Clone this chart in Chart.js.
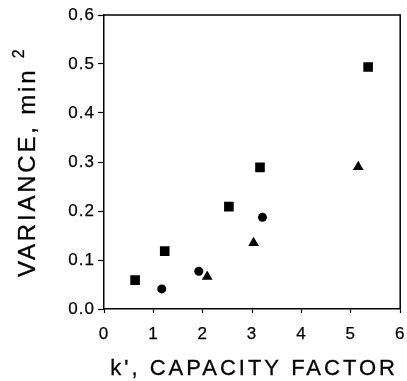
<!DOCTYPE html>
<html>
<head>
<meta charset="utf-8">
<script src="https://cdn.jsdelivr.net/npm/chart.js@4"></script>
<style>
  html, body { margin: 0; padding: 0; background: #fff; }
  canvas { display: block; }
</style>
</head>
<body>
<canvas id="varianceChart" width="407" height="381"></canvas>
<script>
// variance vs capacity factor, three sets of runs
var squareK   = [0.63, 1.23, 2.53, 3.16, 5.35];
var squareVar = [0.059, 0.118, 0.209, 0.289, 0.494];

var circleK   = [1.17, 1.92, 3.21];
var circleVar = [0.041, 0.077, 0.187];

var triangleK   = [2.09, 3.03, 5.15];
var triangleVar = [0.066, 0.135, 0.290];

var xTicks = [0, 1, 2, 3, 4, 5, 6];
var yTicks = [0.0, 0.1, 0.2, 0.3, 0.4, 0.5, 0.6];

var xTitle = "k', CAPACITY FACTOR";
var yTitle = "VARIANCE, min ";
var yTitleSup = "2";

function toPoints(xs, ys) {
  return xs.map(function(x, i) { return { x: x, y: ys[i] }; });
}

var fontName = '"Liberation Sans", Arial, Helvetica, sans-serif';

function heavyText(ctx, text, x, y) {
  ctx.fillText(text, x, y);
  ctx.strokeText(text, x, y);
}

// letter spacing for tick labels, frame and axis titles
var framePlugin = {
  id: 'frame',
  beforeLayout: function(chart) { chart.ctx.letterSpacing = '1px'; },
  beforeDraw: function(chart) { chart.ctx.letterSpacing = '1px'; },
  afterDraw: function(chart) {
    var ctx = chart.ctx;
    var a = chart.chartArea;
    ctx.save();
    ctx.strokeStyle = '#000';
    ctx.lineWidth = 1.5;
    ctx.beginPath();
    ctx.moveTo(a.left, a.top);
    ctx.lineTo(a.right, a.top);
    ctx.lineTo(a.right, a.bottom);
    ctx.stroke();

    ctx.fillStyle = '#000';
    ctx.lineWidth = 0.3;
    // x title
    ctx.letterSpacing = '3px';
    ctx.font = '22px ' + fontName;
    ctx.textAlign = 'center';
    ctx.textBaseline = 'middle';
    heavyText(ctx, xTitle, (a.left + a.right) / 2 + 2, 369);

    // y title, rotated, starting just above the bottom of the axis
    ctx.translate(35, a.bottom - 32);
    ctx.rotate(-Math.PI / 2);
    ctx.textAlign = 'left';
    ctx.textBaseline = 'alphabetic';
    ctx.letterSpacing = '2.8px';
    ctx.font = '24px ' + fontName;
    heavyText(ctx, yTitle, 0, 0);
    var w1 = ctx.measureText(yTitle).width;
    ctx.font = '16px ' + fontName;
    heavyText(ctx, yTitleSup, w1, -11);
    ctx.restore();
  }
};

new Chart(document.getElementById('varianceChart'), {
  type: 'scatter',
  data: {
    datasets: [
      {
        label: 'squares',
        data: toPoints(squareK, squareVar),
        pointStyle: 'rect',
        pointRadius: 6.8,
        backgroundColor: '#000',
        borderColor: '#000',
        borderWidth: 0
      },
      {
        label: 'circles',
        data: toPoints(circleK, circleVar),
        pointStyle: 'circle',
        pointRadius: 4.5,
        backgroundColor: '#000',
        borderColor: '#000',
        borderWidth: 0
      },
      {
        label: 'triangles',
        data: toPoints(triangleK, triangleVar),
        pointStyle: 'triangle',
        pointRadius: 6.2,
        backgroundColor: '#000',
        borderColor: '#000',
        borderWidth: 0
      }
    ]
  },
  options: {
    responsive: false,
    animation: false,
    devicePixelRatio: 1,
    layout: { padding: { left: 0, top: 15, right: 3, bottom: 0 } },
    plugins: {
      legend: { display: false },
      tooltip: { enabled: false }
    },
    scales: {
      x: {
        type: 'linear',
        min: 0,
        max: 6,
        afterBuildTicks: function(scale) {
          scale.ticks = xTicks.map(function(v) { return { value: v }; });
        },
        afterFit: function(scale) {
          scale.height = 72;
          scale.paddingLeft = 0;
          scale.paddingRight = 0;
        },
        grid: {
          drawOnChartArea: false,
          drawTicks: true,
          tickLength: 4,
          color: '#000',
          tickWidth: 1.2
        },
        border: { color: '#000', width: 1.5 },
        ticks: {
          color: '#000',
          textStrokeColor: '#000',
          textStrokeWidth: 0.25,
          padding: 11,
          autoSkip: false,
          maxRotation: 0,
          font: { family: fontName, size: 17 },
          callback: function(v) { return String(v); }
        }
      },
      y: {
        type: 'linear',
        min: 0,
        max: 0.6,
        afterBuildTicks: function(scale) {
          scale.ticks = yTicks.map(function(v) { return { value: v }; });
        },
        afterFit: function(scale) {
          scale.width = 104;
          scale.paddingTop = 0;
          scale.paddingBottom = 0;
        },
        grid: {
          drawOnChartArea: false,
          drawTicks: true,
          tickLength: 6,
          color: '#000',
          tickWidth: 1.2
        },
        border: { color: '#000', width: 1.5 },
        ticks: {
          color: '#000',
          textStrokeColor: '#000',
          textStrokeWidth: 0.25,
          padding: 3,
          autoSkip: false,
          font: { family: fontName, size: 17 },
          callback: function(v) { return v.toFixed(1); }
        }
      }
    }
  },
  plugins: [framePlugin]
});
</script>
</body>
</html>
